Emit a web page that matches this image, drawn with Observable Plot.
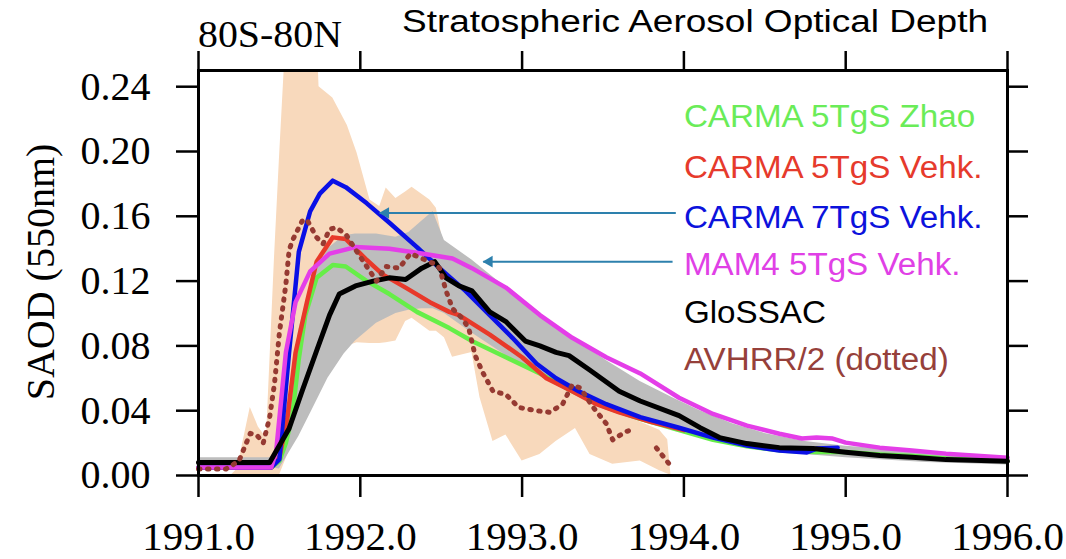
<!DOCTYPE html>
<html><head><meta charset="utf-8">
<script src="https://cdn.jsdelivr.net/npm/d3@7"></script>
<script src="https://cdn.jsdelivr.net/npm/@observablehq/plot@0.6"></script>
<style>body{margin:0;background:#fff;} #chart{width:1066px;height:559px;}</style>
</head><body><div id="chart"></div>
<script>
// ---- data: [year, SAOD] ----
const carmaZhao5 = [[1991.0,0.005],[1991.45,0.005],[1991.50,0.009],[1991.54,0.020],[1991.58,0.037],[1991.62,0.072],[1991.66,0.099],[1991.73,0.122],[1991.83,0.130],[1991.91,0.129],[1992.04,0.120],[1992.18,0.112],[1992.35,0.101],[1992.55,0.091],[1992.69,0.083],[1992.90,0.073],[1993.11,0.063],[1993.31,0.052],[1993.52,0.042],[1993.73,0.035],[1993.97,0.028],[1994.18,0.022],[1994.39,0.018],[1994.59,0.0155],[1994.80,0.0145],[1995.0,0.0145],[1995.21,0.013],[1995.41,0.012],[1995.62,0.0105],[1996.0,0.009]];
const carmaVehk5 = [[1991.0,0.005],[1991.45,0.005],[1991.50,0.011],[1991.55,0.036],[1991.60,0.076],[1991.67,0.107],[1991.73,0.132],[1991.83,0.147],[1991.91,0.146],[1991.98,0.139],[1992.04,0.133],[1992.14,0.124],[1992.28,0.116],[1992.43,0.107],[1992.55,0.101],[1992.61,0.099],[1992.80,0.087],[1993.0,0.073],[1993.15,0.060],[1993.31,0.052],[1993.46,0.044],[1993.60,0.039],[1993.80,0.033],[1994.0,0.028]];
const carmaVehk7 = [[1991.0,0.005],[1991.45,0.005],[1991.50,0.010],[1991.56,0.076],[1991.62,0.138],[1991.69,0.163],[1991.75,0.174],[1991.83,0.182],[1991.91,0.178],[1992.04,0.168],[1992.18,0.156],[1992.35,0.141],[1992.49,0.128],[1992.65,0.114],[1992.80,0.099],[1992.94,0.085],[1993.09,0.069],[1993.21,0.060],[1993.35,0.052],[1993.52,0.044],[1993.73,0.036],[1993.97,0.0295],[1994.18,0.0234],[1994.39,0.0185],[1994.59,0.0154],[1994.76,0.0142],[1994.82,0.0166],[1994.95,0.0172]];
const mam4Vehk5 = [[1991.0,0.005],[1991.45,0.005],[1991.48,0.015],[1991.54,0.076],[1991.60,0.107],[1991.69,0.126],[1991.81,0.137],[1991.97,0.141],[1992.18,0.140],[1992.38,0.137],[1992.57,0.134],[1992.69,0.128],[1992.90,0.116],[1993.11,0.099],[1993.31,0.085],[1993.52,0.073],[1993.73,0.063],[1993.97,0.048],[1994.18,0.038],[1994.39,0.0308],[1994.59,0.0258],[1994.73,0.0228],[1994.82,0.0234],[1994.92,0.0228],[1995.0,0.0203],[1995.21,0.0172],[1995.41,0.0154],[1995.62,0.0135],[1996.0,0.011]];
const glossac = [[1991.0,0.008],[1991.44,0.008],[1991.56,0.029],[1991.64,0.052],[1991.73,0.077],[1991.81,0.099],[1991.87,0.112],[1991.97,0.117],[1992.08,0.120],[1992.18,0.122],[1992.28,0.121],[1992.38,0.128],[1992.46,0.132],[1992.53,0.122],[1992.61,0.117],[1992.69,0.114],[1992.80,0.101],[1992.90,0.095],[1993.02,0.083],[1993.11,0.080],[1993.21,0.076],[1993.29,0.074],[1993.42,0.065],[1993.60,0.052],[1993.73,0.046],[1993.97,0.037],[1994.10,0.0295],[1994.22,0.0234],[1994.39,0.0197],[1994.59,0.0172],[1994.80,0.0166],[1995.0,0.0143],[1995.21,0.0123],[1995.41,0.0113],[1995.62,0.0098],[1996.0,0.0088]];
const avhrr = [[1991.0,0.004],[1991.08,0.004],[1991.17,0.004],[1991.25,0.009],[1991.32,0.026],[1991.36,0.025],[1991.40,0.020],[1991.44,0.036],[1991.47,0.057],[1991.50,0.088],[1991.54,0.118],[1991.56,0.139],[1991.58,0.145],[1991.64,0.157],[1991.67,0.158],[1991.73,0.147],[1991.77,0.143],[1991.81,0.152],[1991.85,0.153],[1991.91,0.149],[1991.98,0.138],[1992.06,0.126],[1992.10,0.120],[1992.16,0.129],[1992.24,0.128],[1992.31,0.137],[1992.38,0.134],[1992.45,0.131],[1992.49,0.128],[1992.53,0.114],[1992.57,0.103],[1992.63,0.097],[1992.67,0.091],[1992.71,0.074],[1992.76,0.063],[1992.82,0.052],[1992.90,0.050],[1992.98,0.042],[1993.09,0.040],[1993.17,0.039],[1993.25,0.044],[1993.31,0.056],[1993.36,0.054],[1993.44,0.042],[1993.52,0.032],[1993.56,0.022],[1993.64,0.027],[1993.67,0.028],[1993.75,NaN],[1993.83,0.017],[1993.91,0.007]];
// ---- ranges: [year, low, high] ----
const glossacRange = [[1991.0,0.005,0.011],[1991.44,0.005,0.011],[1991.50,0.004,0.016],[1991.56,0.014,0.050],[1991.62,0.024,0.090],[1991.70,0.040,0.120],[1991.80,0.060,0.140],[1991.90,0.075,0.148],[1991.97,0.083,0.149],[1992.10,0.094,0.149],[1992.22,0.100,0.147],[1992.30,0.102,0.150],[1992.38,0.103,0.157],[1992.45,0.103,0.163],[1992.52,0.100,0.145],[1992.69,0.088,0.133],[1992.90,0.074,0.116],[1993.11,0.062,0.099],[1993.31,0.052,0.085],[1993.52,0.044,0.071],[1993.73,0.036,0.058],[1993.93,0.029,0.048],[1994.10,0.024,0.040],[1994.30,0.019,0.032],[1994.50,0.0155,0.026],[1994.75,0.013,0.021],[1995.0,0.011,0.018],[1995.5,0.008,0.0145],[1996.0,0.0065,0.011]];
const avhrrRange = [[1991.20,0,0],[1991.24,0,0.004],[1991.32,0,0.042],[1991.37,0,0.030],[1991.42,0,0.023],[1991.47,0,0.135],[1991.50,0,0.195],[1991.54,0.010,0.27],[1991.60,0.025,0.28],[1991.73,0.050,0.28],[1991.745,0.055,0.240],[1991.83,0.070,0.233],[1991.92,0.080,0.216],[1991.98,0.082,0.199],[1992.06,0.0815,0.170],[1992.12,0.0815,0.166],[1992.16,0.082,0.1775],[1992.22,0.083,0.171],[1992.28,0.095,0.175],[1992.32,0.097,0.178],[1992.43,0.089,0.170],[1992.47,0.089,0.165],[1992.52,0.085,0.140],[1992.57,0.073,0.125],[1992.69,0.076,0.112],[1992.74,0.048,0.105],[1992.82,0.021,0.098],[1992.90,0.025,0.088],[1993.0,0.009,0.078],[1993.11,0.013,0.068],[1993.21,0.021,0.060],[1993.33,0.029,0.052],[1993.42,0.013,0.047],[1993.56,0.007,0.040],[1993.73,0.009,0.033],[1993.85,0.003,0.028],[1993.90,0.001,0.022],[1993.92,0,0]];
// ---- axes & annotations ----
const xTicks = [1991, 1992, 1993, 1994, 1995, 1996];
const yTicks = [0, 0.04, 0.08, 0.12, 0.16, 0.20, 0.24];
const legendLabels = ["CARMA 5TgS Zhao", "CARMA 5TgS Vehk.", "CARMA 7TgS Vehk.", "MAM4 5TgS Vehk.", "GloSSAC", "AVHRR/2 (dotted)"];
const legendY = [0.221, 0.190, 0.159, 0.130, 0.100, 0.071];
const legendX = 1994.0;
const arrowFromX = [1993.95, 1993.93];
const arrowToX = [1992.12, 1992.76];
const arrowY = [0.162, 0.132];

const C = {zhao:"#66ee48", v5:"#e8392a", v7:"#0a10e6", mam:"#e43ee8", glo:"#000000", av:"#963a32"};
const legendColors = ["#6aec58", "#e63a2c", "#0c12dc", "#e040e6", "#000000", "#96403a"];
const X = d => d[0], Y = d => d[1];
const legend = legendLabels.map((t, i) => ({t, y: legendY[i], c: legendColors[i]}));
const arrows = arrowY.map((y, i) => ({x1: arrowFromX[i], x2: arrowToX[i], y}));

const plot = Plot.plot({
  width: 1066, height: 559,
  marginLeft: 198, marginRight: 59, marginTop: 70, marginBottom: 84,
  x: {domain: [1991, 1996], label: null},
  y: {domain: [0, 0.25], label: null},
  style: {fontFamily: "'Liberation Serif', 'Times New Roman', serif", background: "white", overflow: "visible"},
  marks: [
    Plot.areaY(avhrrRange, {x: d => d[0], y1: d => d[1], y2: d => d[2], fill: "#f8d9bc", clip: true}),
    Plot.areaY(glossacRange, {x: d => d[0], y1: d => d[1], y2: d => d[2], fill: "#bdbdbd", clip: true}),
    Plot.line(carmaZhao5, {x: X, y: Y, stroke: C.zhao, strokeWidth: 4.5}),
    Plot.line(carmaVehk5, {x: X, y: Y, stroke: C.v5, strokeWidth: 4.5}),
    Plot.line(carmaVehk7, {x: X, y: Y, stroke: C.v7, strokeWidth: 4.5}),
    Plot.line(mam4Vehk5, {x: X, y: Y, stroke: C.mam, strokeWidth: 4.5}),
    Plot.line(glossac, {x: X, y: Y, stroke: C.glo, strokeWidth: 5}),
    Plot.line(avhrr, {x: X, y: Y, stroke: C.av, strokeWidth: 5, strokeDasharray: "1.5 7.5", strokeLinecap: "round"}),
    Plot.link(arrows, {x1: "x1", x2: "x2", y1: "y", y2: "y", stroke: "#2d80ad", strokeWidth: 2}),
    Plot.dot(arrows, {x: "x2", y: "y", symbol: "triangle", rotate: -90, r: 4.3, fill: "#2d80ad", stroke: "none", dx: 6}),
    Plot.text(legend, {x: legendX, y: "y", text: "t", fill: "c", textAnchor: "start", fontSize: 31, fontFamily: "'Liberation Sans', Arial, sans-serif"}),
    Plot.frame({strokeWidth: 3}),
    Plot.axisX({anchor: "bottom", ticks: xTicks, tickSize: 22, tickPadding: 23, tickFormat: d => d.toFixed(1), fontSize: 41, strokeWidth: 2.5, label: null}),
    Plot.axisX({anchor: "top", ticks: xTicks, tickSize: 20, tickFormat: () => "", strokeWidth: 2.5, label: null}),
    Plot.axisY({anchor: "left", ticks: yTicks, tickSize: 22, tickPadding: 26, tickFormat: d3.format(".2f"), fontSize: 40, strokeWidth: 2.5, label: null}),
    Plot.axisY({anchor: "right", ticks: yTicks, tickSize: 20, tickFormat: () => "", strokeWidth: 2.5, label: null})
  ]
});
document.getElementById("chart").appendChild(plot);

const svg = d3.select(plot);
// legend text slightly widened like the reference glyphs
svg.selectAll("text").filter(function() { return legendLabels.includes(this.textContent); })
  .each(function() { const w = this.getComputedTextLength(); d3.select(this).attr("textLength", w * 1.07).attr("lengthAdjust", "spacingAndGlyphs"); });

svg.append("text").text("80S-80N")
  .attr("x", 198).attr("y", 47).attr("text-anchor", "start").attr("font-family", "'Liberation Serif', serif").attr("font-size", 38)
  .attr("textLength", 144).attr("lengthAdjust", "spacingAndGlyphs");
svg.append("text").text("Stratospheric Aerosol Optical Depth")
  .attr("x", 402).attr("y", 32).attr("text-anchor", "start").attr("font-family", "'Liberation Sans', Arial, sans-serif").attr("font-size", 31)
  .attr("textLength", 586).attr("lengthAdjust", "spacingAndGlyphs");
svg.append("text").text("SAOD (550nm)")
  .attr("transform", "translate(40,272) rotate(-90)").attr("text-anchor", "middle").attr("dy", "0.35em")
  .attr("font-family", "'Liberation Serif', serif").attr("font-size", 40);
</script>
</body></html>
